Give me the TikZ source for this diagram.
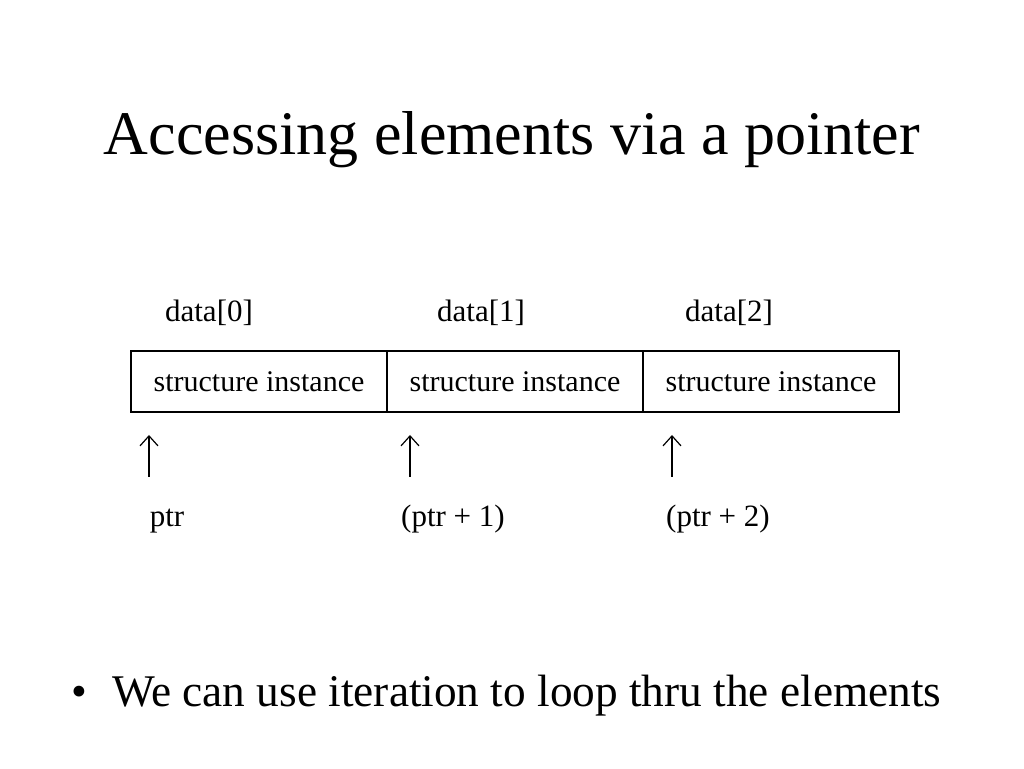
\documentclass[tikz,border=0pt]{standalone}
\usepackage{fontspec}
\setmainfont{Liberation Serif}
\usetikzlibrary{positioning,arrows.meta}

\begin{document}
\begin{tikzpicture}[x=1pt,y=1pt,
  cell/.style={draw,line width=1.6pt,minimum width=256pt,minimum height=61pt,inner sep=0pt,font=\fontsize{30}{30}\selectfont},
  small/.style={anchor=base,inner sep=0pt,font=\fontsize{31}{31}\selectfont},
  ptrarrow/.style={-{Straight Barb[length=10pt,width=18pt,line width=1.2pt]},line width=1.4pt}]
\useasboundingbox (0,0) rectangle (1024,768);

\node[anchor=base,font=\fontsize{62}{62}\selectfont] (title) at (512,613) {Accessing elements via a pointer};

\node[small] (d0) at (209,446) {data[0]};
\node[small] (d1) at (481,446) {data[1]};
\node[small] (d2) at (729,446) {data[2]};

\node[cell] (s0) at (259,386.5) {structure instance};
\node[cell] (s1) at (515,386.5) {structure instance};
\node[cell] (s2) at (771,386.5) {structure instance};

\coordinate (t0) at (149,291);
\coordinate (h0) at (149,333);
\coordinate (t1) at (410,291);
\coordinate (h1) at (410,333);
\coordinate (t2) at (672,291);
\coordinate (h2) at (672,333);

\node[small] (p0) at (167,241) {ptr};
\node[small] (p1) at (453,241) {(ptr + 1)};
\node[small] (p2) at (718,241) {(ptr + 2)};

\draw[ptrarrow] (t0) -- (h0);
\draw[ptrarrow] (t1) -- (h1);
\draw[ptrarrow] (t2) -- (h2);

\node[anchor=base,font=\fontsize{45}{45}\selectfont] (dot) at (79,62) {•};
\node[anchor=base west,inner sep=0pt,font=\fontsize{45.3}{45}\selectfont] (bullet) at (112,62) {We can use iteration to loop thru the elements};
\end{tikzpicture}
\end{document}
